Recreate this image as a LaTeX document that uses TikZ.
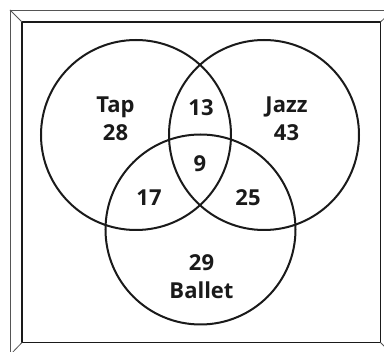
\documentclass[tikz,border=0pt]{standalone}
\usepackage{fontspec}
\setsansfont{Open Sans}
\usepackage{xcolor}
\usetikzlibrary{positioning}
\definecolor{SetLine}  {HTML}{1A1A1A}
\definecolor{FrameOut} {HTML}{555555}

\begin{document}
\begin{tikzpicture}[x=1pt,y=-1pt,
    setcircle/.style={circle,draw=SetLine,line width=2pt,minimum size=190pt,inner sep=0pt},
    setlabel/.style={font=\sffamily\bfseries\fontsize{22}{28}\selectfont,align=center,inner sep=0pt,text=SetLine}]
  \useasboundingbox (0,0) rectangle (384,352);
  % bevelled frame
  \draw[FrameOut,line width=0.8pt] (10,10) rectangle (393,355);
  \draw[SetLine,line width=1.6pt] (22,22) rectangle (380.5,342.5);
  \draw[FrameOut,line width=0.8pt] (10,10) -- (22,22) (393,10) -- (380.5,22)
    (10,355) -- (22,342.5) (393,355) -- (380.5,342.5);
  % the three sets
  \node[setcircle] (tapset)    at (136,135) {};
  \node[setcircle] (jazzset)   at (264,135) {};
  \node[setcircle] (balletset) at (200.5,229.5) {};
  % region counts
  \node[setlabel] (taplbl)    at (115.5,119) {Tap\\28};
  \node[setlabel] (jazzlbl)   at (286.5,119) {Jazz\\43};
  \node[setlabel] (tapjazz)   at (201,108) {13};
  \node[setlabel] (allthree)  at (200,164) {9};
  \node[setlabel] (tapballet) at (149,198) {17};
  \node[setlabel] (jazzballet)at (248,198) {25};
  \node[setlabel] (balletlbl) at (201.5,277) {29\\Ballet};
\end{tikzpicture}
\end{document}
